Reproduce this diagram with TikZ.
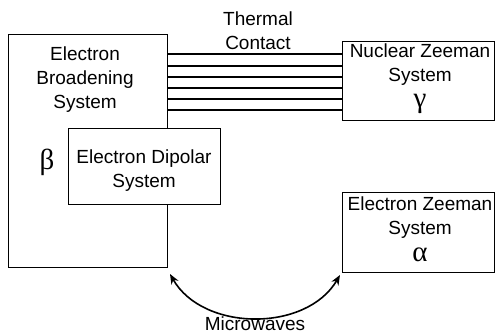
\documentclass[tikz,border=0pt]{standalone}
\usepackage{fontspec}
\setmainfont{Liberation Sans}
\newfontfamily\greekfont{Liberation Serif}
\usetikzlibrary{arrows.meta}
\tikzset{
  sysbox/.style={draw, line width=0.9pt, fill=white, anchor=north west, inner sep=0pt},
  systext/.style={align=center, inner sep=1pt, font=\fontsize{19}{24}\selectfont},
  greek/.style={inner sep=0pt, font=\greekfont\fontsize{29}{29}\selectfont},
  contact/.style={line width=1.1pt},
  mwarrow/.style={line width=1.6pt, {Stealth[length=10pt,width=8pt]}-{Stealth[length=10pt,width=8pt]}}
}
\begin{document}
\begin{tikzpicture}[x=1pt, y=1pt]
    \useasboundingbox (0,0) rectangle (495,334);
    \node[sysbox, minimum width=159pt, minimum height=233pt] (broad) at (8,300) {};
    \node[sysbox, minimum width=152pt, minimum height=76pt] (dipolar) at (68,206) {};
    \node[sysbox, minimum width=152pt, minimum height=79pt] (nuclear) at (342,293) {};
    \node[sysbox, minimum width=152pt, minimum height=80pt] (ezeeman) at (342,142) {};

    \node[systext] (broadtxt) at (85,254) {Electron\\Broadening\\System};
    \node[greek] (beta) at (47,172) {β};
    \node[systext] (diptxt) at (144,163) {Electron Dipolar\\System};
    \node[systext] (nuctxt) at (420,269) {Nuclear Zeeman\\System};
    \node[greek] (gamma) at (420,230) {γ};
    \node[systext] (eztxt) at (420,116) {Electron Zeeman\\System};
    \node[greek] (alpha) at (420,79) {α};

    \foreach \y in {280,268,257,246,235,224}
        \draw[contact] (broad.east |- 0,\y) -- (nuclear.west |- 0,\y);
    \node[systext] (thermal) at (258,303) {Thermal\\Contact};

    \coordinate (mwa) at (170,60);
    \coordinate (mwb) at (340,59);
    \draw[mwarrow] (mwa) to[bend right=60] (mwb);
    \node[systext] (micro) at (255,10.5) {Microwaves};
\end{tikzpicture}
\end{document}
